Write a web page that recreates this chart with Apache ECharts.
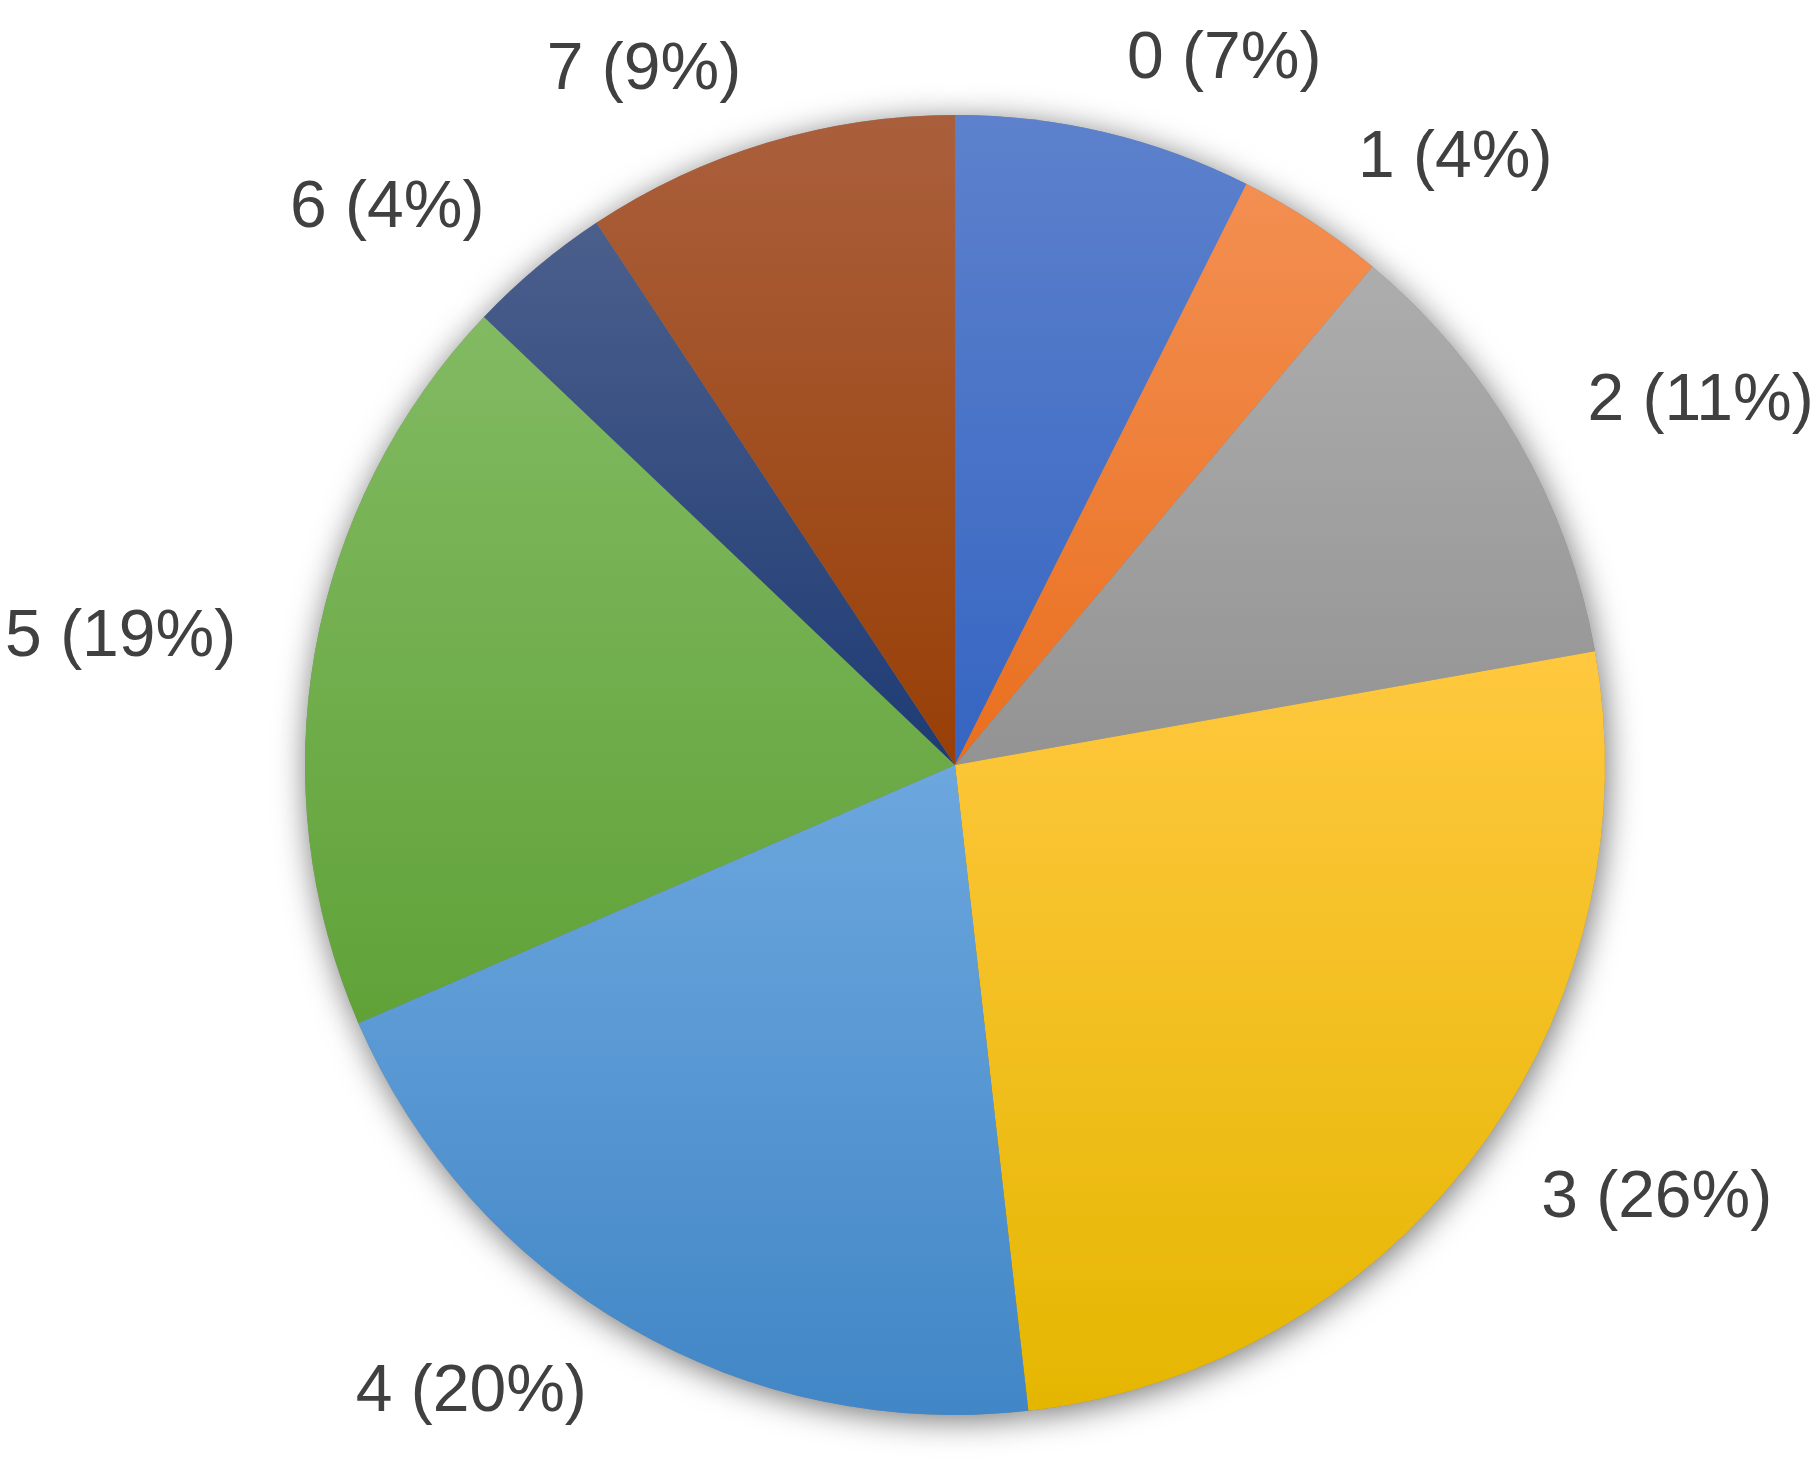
<!DOCTYPE html>
<html>
<head>
<meta charset="utf-8">
<script src="https://cdn.jsdelivr.net/npm/echarts@6/dist/echarts.min.js"></script>
<style>
  html, body { margin: 0; padding: 0; background: #fff; }
  #chart { width: 1817px; height: 1462px; }
</style>
</head>
<body>
<div id="chart"></div>
<script>
// categories and values (share of total)
const categories = ["0", "1", "2", "3", "4", "5", "6", "7"];
const values = [7.4, 3.7, 11.1, 26.0, 20.3, 18.6, 3.6, 9.3];

// top / bottom colour of each slice's gradient
const topColors = ["#5d81cc", "#f38f52", "#adadad", "#ffc83f", "#6ca7de", "#82ba62", "#4b5f8c", "#aa5f3c"];
const bottomColors = ["#3565c2", "#e96f1e", "#939393", "#e5b600", "#4186c6", "#60a238", "#1e3b74", "#983f06"];

const myChart = echarts.init(document.getElementById("chart"));

const sliceData = categories.map((name, i) => ({
  name: name,
  value: values[i],
  itemStyle: {
    color: new echarts.graphic.LinearGradient(0, 0, 0, 1, [
      { offset: 0, color: topColors[i] },
      { offset: 1, color: bottomColors[i] },
    ]),
  },
}));

const center = [955, 765];
const radius = 650;

myChart.setOption({
  animation: false,
  series: [
    // 阴影层
    {
      type: "pie",
      silent: true,
      z: 1,
      center: center,
      radius: radius,
      startAngle: 90,
      label: { show: false },
      labelLine: { show: false },
      itemStyle: {
        color: "#888",
        shadowBlur: 32,
        shadowColor: "rgba(0,0,0,0.55)",
        shadowOffsetX: 2,
        shadowOffsetY: 5,
      },
      data: values.map((v) => ({ value: v })),
    },
    // 上层
    {
      type: "pie",
      z: 2,
      center: center,
      radius: radius,
      startAngle: 90,
      avoidLabelOverlap: false,
      percentPrecision: 0,
      emphasis: { disabled: true },
      label: {
        show: true,
        position: "outside",
        formatter: "{b} ({d}%)",
        fontFamily: "Liberation Sans, Arial, sans-serif",
        fontSize: 66,
        color: "#404040",
        distanceToLabelLine: 5,
      },
      labelLine: {
        show: false,
        length: 75,
        length2: 0,
      },
      data: sliceData,
    },
  ],
});
</script>
</body>
</html>
